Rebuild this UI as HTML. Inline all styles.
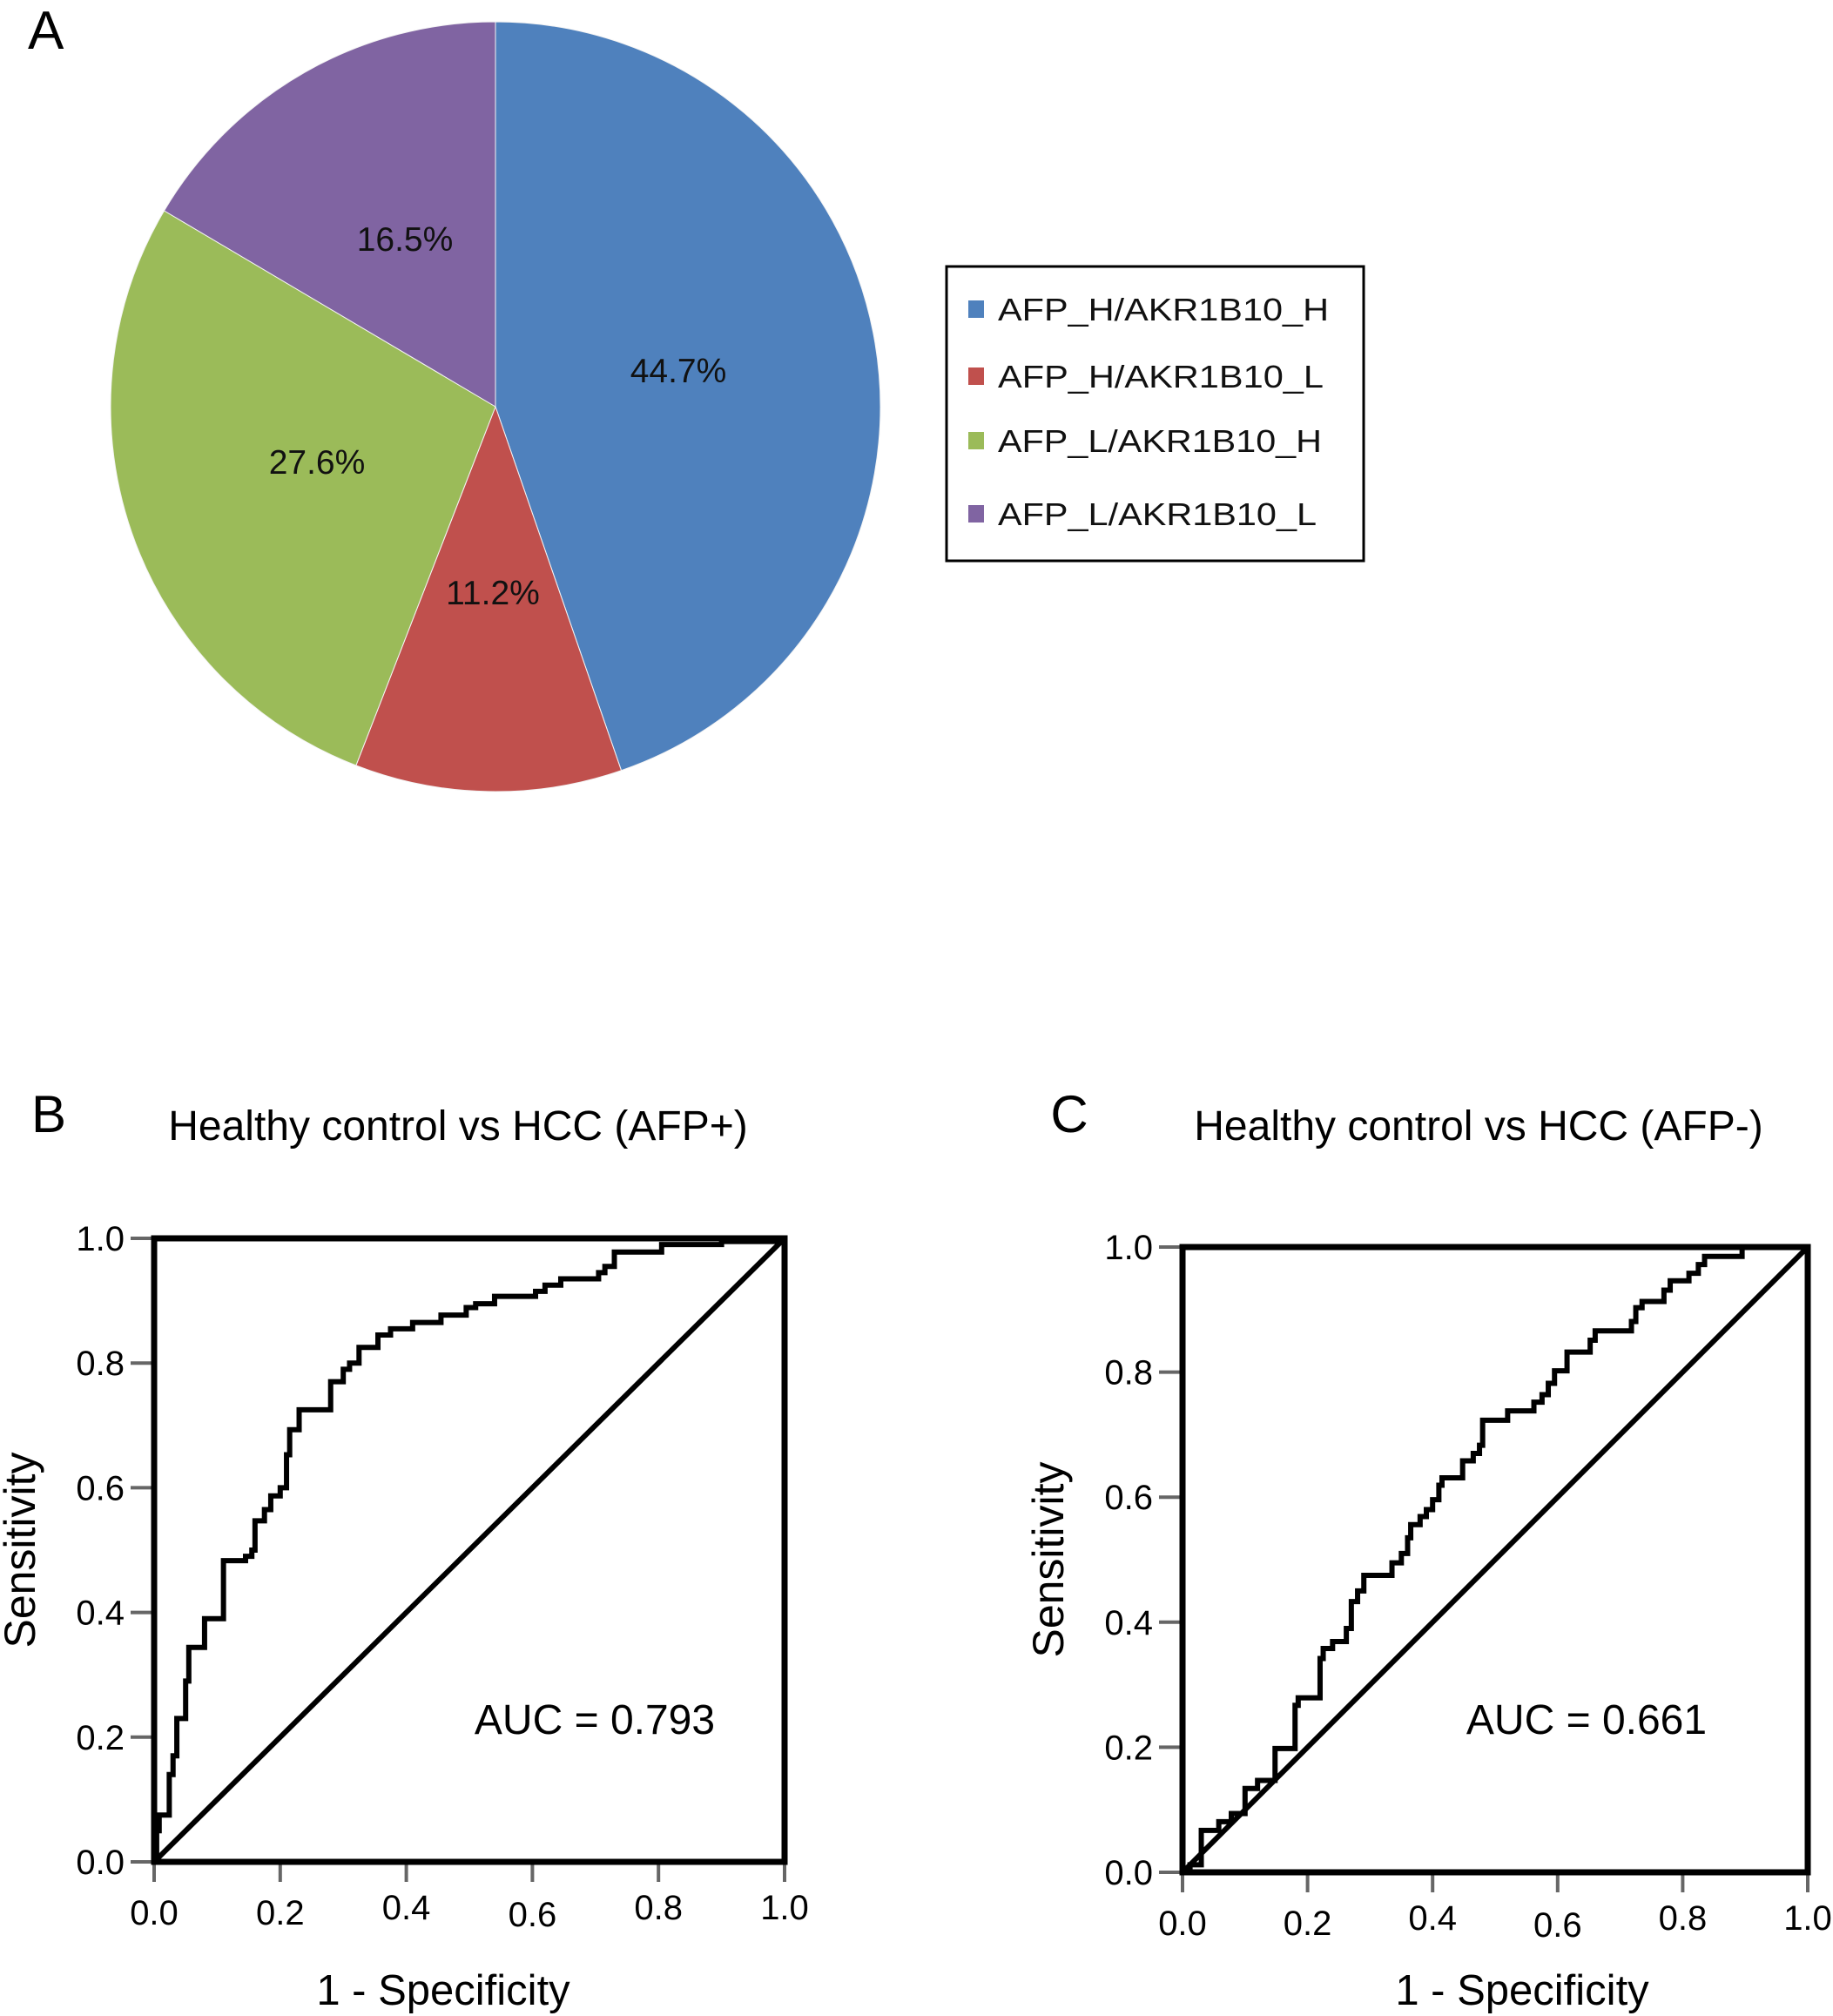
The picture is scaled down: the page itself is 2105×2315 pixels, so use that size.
<!DOCTYPE html>
<html><head><meta charset="utf-8">
<style>
html,body{margin:0;padding:0;background:#fff;}
svg{display:block;font-family:"Liberation Sans",Arial,sans-serif;}
</style></head>
<body>
<svg id="fig" width="2105" height="2315" viewBox="0 0 2105 2315" xmlns="http://www.w3.org/2000/svg">
<rect width="2105" height="2315" fill="#fff"/>
<text x="32" y="56" font-size="62">A</text>
<g id="pie"></g>
<g>
 <rect x="1087" y="306" width="479" height="338" fill="#fff" stroke="#000" stroke-width="3"/>
 <g id="legendItems"></g>
</g>
<text x="56" y="1300" font-size="60" text-anchor="middle">B</text>
<text x="526" y="1309" font-size="48" text-anchor="middle">Healthy control vs HCC (AFP+)</text>
<text x="1228" y="1300" font-size="60" text-anchor="middle">C</text>
<text x="1698" y="1309" font-size="48" text-anchor="middle">Healthy control vs HCC (AFP-)</text>
<g id="rocB"></g>
<g id="rocC"></g>
</svg>
<script>
// ---- Pie data ----
const pieCategories = ["AFP_H/AKR1B10_H","AFP_H/AKR1B10_L","AFP_L/AKR1B10_H","AFP_L/AKR1B10_L"];
const pieValues = [44.7, 11.2, 27.6, 16.5];
const pieLabels = ["44.7%","11.2%","27.6%","16.5%"];
const pieColors = ["#4F81BD","#C0504D","#9BBB59","#8064A2"];

// ---- ROC B data (1-specificity, sensitivity step vertices) ----
const fprB = [0,0.004,0.008,0.024,0.03,0.036,0.05,0.055,0.08,0.11,0.11,0.145,0.155,0.16,0.175,0.185,0.2,0.21,0.215,0.23,0.28,0.3,0.31,0.325,0.355,0.375,0.41,0.455,0.495,0.51,0.54,0.605,0.62,0.645,0.705,0.715,0.73,0.805,0.9,1.0];
const tprB = [0,0.05,0.075,0.14,0.17,0.23,0.29,0.344,0.39,0.40,0.483,0.49,0.50,0.547,0.565,0.587,0.60,0.653,0.693,0.725,0.77,0.79,0.80,0.825,0.845,0.855,0.865,0.877,0.889,0.895,0.907,0.915,0.925,0.935,0.945,0.955,0.978,0.99,0.995,1.0];
// ---- ROC C data ----
const fprC = [0,0.012,0.03,0.058,0.078,0.1,0.12,0.148,0.18,0.185,0.22,0.225,0.24,0.262,0.27,0.28,0.29,0.335,0.35,0.36,0.365,0.38,0.39,0.4,0.41,0.415,0.448,0.465,0.475,0.48,0.52,0.562,0.575,0.585,0.595,0.615,0.652,0.66,0.718,0.725,0.735,0.77,0.78,0.81,0.825,0.835,0.895,1.0];
const tprC = [0,0.012,0.067,0.081,0.094,0.134,0.147,0.198,0.267,0.279,0.342,0.358,0.369,0.39,0.433,0.45,0.475,0.495,0.51,0.535,0.556,0.569,0.58,0.596,0.619,0.631,0.658,0.67,0.683,0.723,0.738,0.752,0.764,0.782,0.802,0.832,0.851,0.866,0.881,0.903,0.913,0.931,0.946,0.958,0.972,0.985,1.0,1.0];
const tickValues = [0,0.2,0.4,0.6,0.8,1.0];
const tickLabels = ["0.0","0.2","0.4","0.6","0.8","1.0"];
const aucB = "AUC = 0.793";
const aucC = "AUC = 0.661";

const NS = "http://www.w3.org/2000/svg";
function mk(tag, attrs, parent){const e=document.createElementNS(NS,tag);for(const k in attrs)e.setAttribute(k,attrs[k]);parent.appendChild(e);return e;}

// Pie
(function(){
 const g=document.getElementById('pie');
 const cx=569, cy=467, r=442;
 const total=pieValues.reduce((a,b)=>a+b,0);
 const lblPos=[[779,439],[566,694],[364,544],[465,288]];
 let a0=-Math.PI/2;
 pieValues.forEach((v,i)=>{
  const a1=a0+v/total*2*Math.PI;
  const x0=cx+r*Math.cos(a0), y0=cy+r*Math.sin(a0);
  const x1=cx+r*Math.cos(a1), y1=cy+r*Math.sin(a1);
  const large=(a1-a0)>Math.PI?1:0;
  const p=mk('path',{d:`M${cx},${cy}L${x0},${y0}A${r},${r} 0 ${large} 1 ${x1},${y1}Z`,fill:pieColors[i],stroke:'#f4f4f4','stroke-width':1},g);
  
  
  const t=mk('text',{x:lblPos[i][0],y:lblPos[i][1],'font-size':39,'text-anchor':'middle',fill:'#111'},g);
  t.textContent=pieLabels[i];
  
  
  a0=a1;
 });
 const lg=document.getElementById('legendItems');
 const ly=[355,432,506,590];
 pieCategories.forEach((c,i)=>{
  const s=mk('rect',{x:1112,y:ly[i]-10,width:18,height:20,fill:pieColors[i]},lg);
  
  
  const t=mk('text',{x:1146,y:ly[i]+13,'font-size':36,textLength:[380,374,372,366][i],lengthAdjust:'spacingAndGlyphs',fill:'#111'},lg);
  t.textContent=c;
  
  
 });
})();

function roc(gid, box, fpr, tpr, auc, aucX, labelYOff, xTitleX){
 const g=document.getElementById(gid);
 const X=v=>box.x0+(box.x1-box.x0)*v;
 const Y=v=>box.y0+(box.y1-box.y0)*v;
 tickValues.forEach((v,i)=>{
  const yt=mk('line',{x1:box.x0-27,x2:box.x0,y1:Y(v),y2:Y(v),stroke:'#666','stroke-width':4},g);
  
  
  const yl=mk('text',{x:box.x0-34,y:Y(v)+14,'font-size':40,'text-anchor':'end'},g);
  yl.textContent=tickLabels[i];
  
  
  const xt=mk('line',{x1:X(v),x2:X(v),y1:box.y0,y2:box.y0+23,stroke:'#666','stroke-width':4},g);
  
  
  const xl=mk('text',{x:X(v),y:box.y0+72+labelYOff[i],'font-size':40,'text-anchor':'middle'},g);
  xl.textContent=tickLabels[i];
  
  
 });
 const f=mk('rect',{x:X(0),y:Y(1),width:X(1)-X(0),height:Y(0)-Y(1),fill:'none',stroke:'#000','stroke-width':7},g);
 
 
 const d=mk('line',{x1:X(0),y1:Y(0),x2:X(1),y2:Y(1),stroke:'#000','stroke-width':6},g);
 
 
 let pd=`M${X(fpr[0])},${Y(tpr[0])}`;
 for(let i=1;i<fpr.length;i++){pd+=`L${X(fpr[i])},${Y(tpr[i-1])}L${X(fpr[i])},${Y(tpr[i])}`;}
 const c=mk('path',{d:pd,fill:'none',stroke:'#000','stroke-width':6,'stroke-linejoin':'miter'},g);
 
 
 const a=mk('text',{x:aucX,y:1991,'font-size':48,'text-anchor':'middle'},g);
 a.textContent=auc;
 
 
 const yt=mk('text',{x:0,y:0,'font-size':50,'text-anchor':'middle',transform:`translate(${box.x0-137},${(box.y0+box.y1)/2}) rotate(-90)`},g);
 yt.textContent='Sensitivity';
 
 
 const xt=mk('text',{x:xTitleX,y:2302,'font-size':49,'text-anchor':'middle'},g);
 xt.textContent='1 - Specificity';
 
 
}
roc('rocB',{x0:177,x1:901,y0:2138,y1:1422},fprB,tprB,aucB,683,[0,0,-6,2,-6,-6],509);
roc('rocC',{x0:1358,x1:2076,y0:2150,y1:1432},fprC,tprC,aucC,1822,[0,0,-6,2,-6,-6],1748);
</script>
</body></html>
